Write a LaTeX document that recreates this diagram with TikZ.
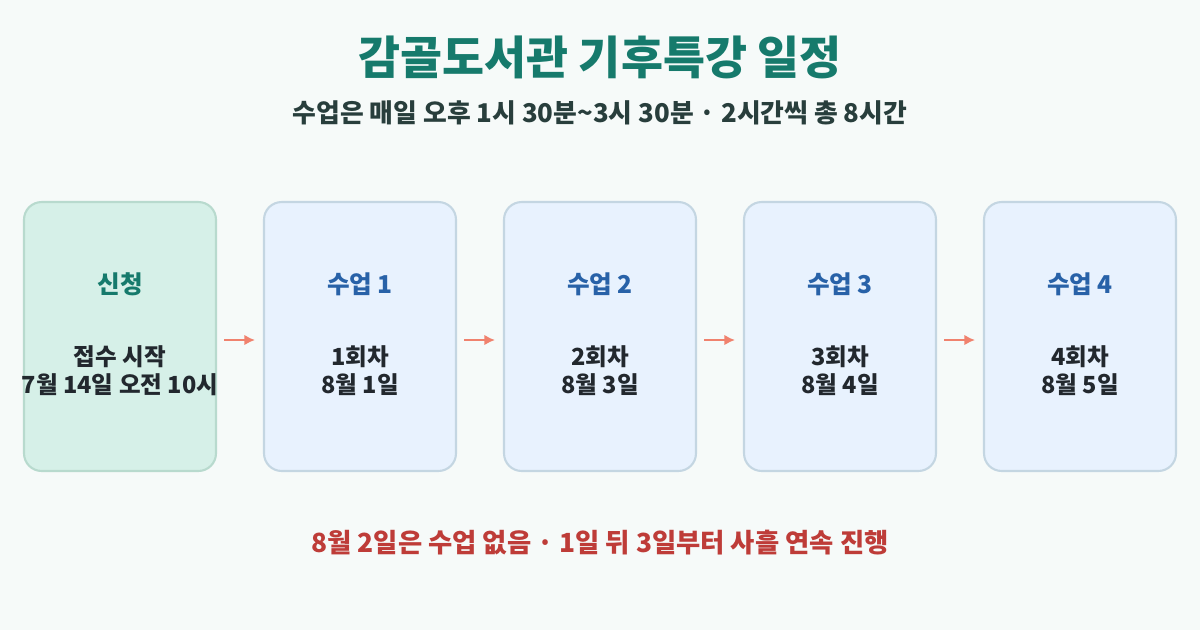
\documentclass[tikz,border=0pt]{standalone}
\usepackage{fontspec}
\setmainfont{Noto Sans CJK KR}
\usetikzlibrary{positioning}
\usetikzlibrary{arrows.meta}
\definecolor{bg}{RGB}{246,250,249}
\definecolor{titlegreen}{RGB}{22,122,108}
\definecolor{subdark}{RGB}{40,62,60}
\definecolor{greenfill}{RGB}{214,240,232}
\definecolor{greenline}{RGB}{184,218,206}
\definecolor{bluefill}{RGB}{232,242,254}
\definecolor{blueline}{RGB}{196,214,226}
\definecolor{bluehead}{RGB}{40,98,168}
\definecolor{bodydark}{RGB}{34,40,46}
\definecolor{arrowred}{RGB}{240,130,110}
\definecolor{notered}{RGB}{190,60,56}
\begin{document}
\begin{tikzpicture}[%
    x=0.02cm, y=-0.02cm,
    >=latex,
    card/.style={draw=blueline,fill=bluefill,line width=1.2pt,rounded corners=10pt,
      minimum width=3.84cm,minimum height=5.38cm},
    head/.style={font=\bfseries\fontsize{14}{16}\selectfont,text=bluehead},
    body/.style={font=\bfseries\fontsize{13.4}{16}\selectfont,text=bodydark,align=center},
    link/.style={-{Latex[length=6pt,width=6pt]},arrowred,line width=1.3pt}
  ]
  \fill [bg] (0,0) rectangle (1200,630);

  \node [font=\bfseries\fontsize{26}{30}\selectfont,text=titlegreen] (title) at (600,57) {감골도서관 기후특강 일정};
  \node [font=\bfseries\fontsize{14.7}{17}\selectfont,text=subdark] (subtitle) at (600,113) {수업은 매일 오후 1시 30분\textasciitilde 3시 30분 · 2시간씩 총 8시간};

  \node [card,draw=greenline,fill=greenfill] (apply) at (120,336.5) {};
  \node [head,text=titlegreen] (applyhead) at (120,284) {신청};
  \node [body] (applybody) at (120,371) {접수 시작\\7월 14일 오전 10시};

  \foreach \n/\dd [count=\i] in {1/1,2/3,3/4,4/5} {
    \node [card] (class\n) at (120+240*\i,336.5) {};
    \node [head] (classhead\n) at (120+240*\i,284) {수업 \n};
    \node [body] (classbody\n) at (120+240*\i,371) {\n{}회차\\8월 \dd{}일};
  }

  \foreach \i in {0,1,2,3} {
    \coordinate (a\i) at (224+240*\i,340); \coordinate (b\i) at (255+240*\i,340);
    \draw [link] (a\i) -- (b\i);
  }

  \node [font=\bfseries\fontsize{15}{17}\selectfont,text=notered] (note) at (600,543) {8월 2일은 수업 없음 · 1일 뒤 3일부터 사흘 연속 진행};
\end{tikzpicture}
\end{document}
